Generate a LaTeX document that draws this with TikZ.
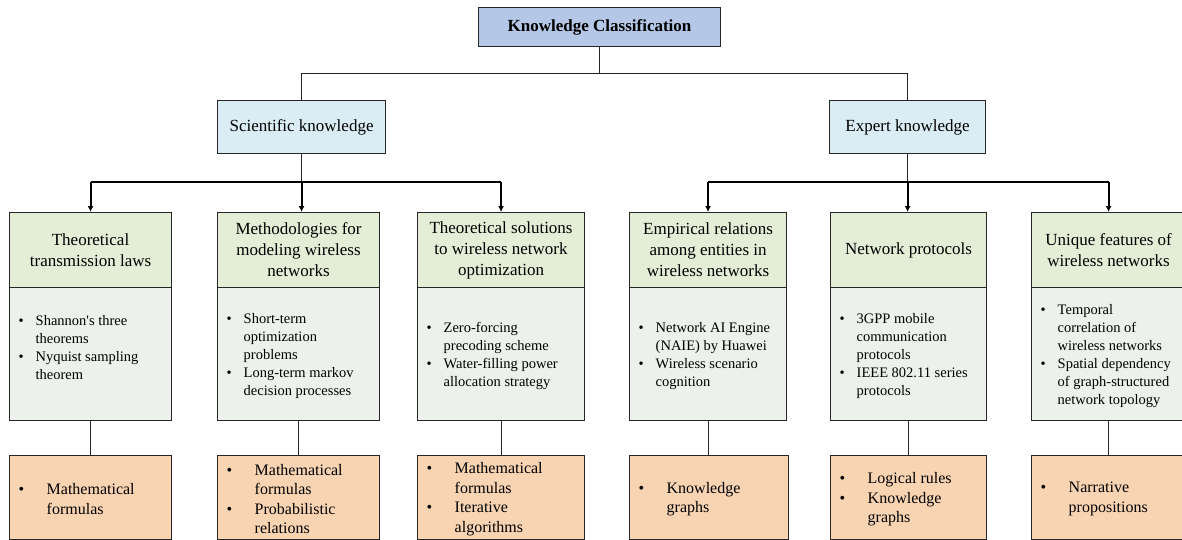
\documentclass[tikz,border=0pt]{standalone}
\usepackage{fontspec}
\setmainfont{Liberation Serif}
\usetikzlibrary{arrows.meta}
\definecolor{titlefill}{HTML}{B4C7E7}
\definecolor{catfill}{HTML}{DAEDF4}
\definecolor{hdrfill}{HTML}{E4EED7}
\definecolor{bodyfill}{HTML}{EDF1EB}
\definecolor{botfill}{HTML}{F8D4B3}
\definecolor{bordercol}{HTML}{262626}
\newcommand\bb{\makebox[17pt][l]{\textbullet}}
\newcommand\bi{\hspace*{17pt}}
\newcommand\Bb{\makebox[28pt][l]{\textbullet}}
\newcommand\Bi{\hspace*{28pt}}
\tikzset{
  box/.style={draw=bordercol, line width=1.1pt, inner sep=0pt, anchor=north west},
  hdr/.style={box, fill=hdrfill, minimum height=75pt, align=center, font=\fontsize{17}{21}\selectfont},
  bodybox/.style={box, fill=bodyfill, minimum height=133pt},
  botbox/.style={box, fill=botfill, minimum height=84pt},
  btxt/.style={anchor=west, inner sep=0pt, align=left, font=\fontsize{14.5}{18}\selectfont},
  Btxt/.style={anchor=west, inner sep=0pt, align=left, font=\fontsize{16}{19.5}\selectfont},
  conn/.style={line width=1pt, draw=bordercol},
  bar/.style={line width=1.9pt},
  arr/.style={line width=1.9pt, -{Latex[length=6pt,width=6pt]}}
}
\begin{document}
\begin{tikzpicture}[x=1pt,y=-1pt]
\useasboundingbox (0,0) rectangle (1182,540);

% top levels
\node[box, fill=titlefill, minimum width=242pt, minimum height=39pt, font=\fontsize{17}{21}\selectfont\bfseries] (title) at (478,7) {\raisebox{-2pt}{Knowledge Classification}};
\node[box, fill=catfill, minimum width=168pt, minimum height=53pt, font=\fontsize{17}{21}\selectfont] (sci) at (217,100) {\raisebox{-2pt}{Scientific knowledge}};
\node[box, fill=catfill, minimum width=156pt, minimum height=53pt, font=\fontsize{17}{21}\selectfont] (exp) at (829,100) {\raisebox{-2pt}{Expert knowledge}};

% headers
\node[hdr, minimum width=162pt] (h1) at (9,212) {Theoretical\\transmission laws};
\node[hdr, minimum width=162pt] (h2) at (217,212) {Methodologies for\\modeling wireless\\networks};
\node[hdr, minimum width=167pt] (h3) at (417,212) {Theoretical solutions\\to wireless network\\optimization};
\node[hdr, minimum width=157pt] (h4) at (629,212) {Empirical relations\\among entities in\\wireless networks};
\node[hdr, minimum width=156pt] (h5) at (830,212) {Network protocols};
\node[hdr, minimum width=154pt] (h6) at (1031,212) {Unique features of\\wireless networks};

% bodies
\node[bodybox, minimum width=162pt] (b1) at (9,287) {};
\node[bodybox, minimum width=162pt] (b2) at (217,287) {};
\node[bodybox, minimum width=167pt] (b3) at (417,287) {};
\node[bodybox, minimum width=157pt] (b4) at (629,287) {};
\node[bodybox, minimum width=156pt] (b5) at (830,287) {};
\node[bodybox, minimum width=154pt] (b6) at (1031,287) {};

\node[btxt] (t1) at ([xshift=9.5pt,yshift=7pt]b1.west) {\bb Shannon\textquotesingle s three\\\bi theorems\\\bb Nyquist sampling\\\bi theorem};
\node[btxt] (t2) at ([xshift=9.5pt,yshift=-2pt]b2.west) {\bb Short-term\\\bi optimization\\\bi problems\\\bb Long-term markov\\\bi decision processes};
\node[btxt] (t3) at ([xshift=9.5pt,yshift=-2pt]b3.west) {\bb Zero-forcing\\\bi precoding scheme\\\bb Water-filling power\\\bi allocation strategy};
\node[btxt] (t4) at ([xshift=9.5pt,yshift=-2pt]b4.west) {\bb Network AI Engine\\\bi (NAIE) by Huawei\\\bb Wireless scenario\\\bi cognition};
\node[btxt] (t5) at ([xshift=9.5pt,yshift=-2pt]b5.west) {\bb 3GPP mobile\\\bi communication\\\bi protocols\\\bb IEEE 802.11 series\\\bi protocols};
\node[btxt] (t6) at ([xshift=9.5pt,yshift=-2pt]b6.west) {\bb Temporal\\\bi correlation of\\\bi wireless networks\\\bb Spatial dependency\\\bi of graph-structured\\\bi network topology};

% bottoms
\node[botbox, minimum width=162pt] (d1) at (9,455) {};
\node[botbox, minimum width=162pt] (d2) at (217,455) {};
\node[botbox, minimum width=167pt] (d3) at (417,455) {};
\node[botbox, minimum width=159pt] (d4) at (629,455) {};
\node[botbox, minimum width=156pt] (d5) at (830,455) {};
\node[botbox, minimum width=154pt] (d6) at (1031,455) {};

\node[Btxt] (u1) at ([xshift=9.5pt,yshift=-1.5pt]d1.west) {\Bb Mathematical\\\Bi formulas};
\node[Btxt] (u2) at ([xshift=9.5pt,yshift=-1.5pt]d2.west) {\Bb Mathematical\\\Bi formulas\\\Bb Probabilistic\\\Bi relations};
\node[Btxt] (u3) at ([xshift=9.5pt,yshift=-1.5pt]d3.west) {\Bb Mathematical\\\Bi formulas\\\Bb Iterative\\\Bi algorithms};
\node[Btxt] (u4) at ([xshift=9.5pt,yshift=-1.5pt]d4.west) {\Bb Knowledge\\\Bi graphs};
\node[Btxt] (u5) at ([xshift=9.5pt,yshift=-2pt]d5.west) {\Bb Logical rules\\\Bb Knowledge\\\Bi graphs};
\node[Btxt] (u6) at ([xshift=9.5pt,yshift=-1.5pt]d6.west) {\Bb Narrative\\\Bi propositions};

% top connectors
\draw[conn] (title.south) -- ++(0,26) coordinate (tb);
\draw[conn] (sci.north) |- (tb) -| (exp.north);

% scientific branch
\draw[conn] (sci.south) -- ++(0,28) coordinate (sb);
\draw[bar] (h1.north |- sb) -- (h3.north |- sb);
\draw[arr] (h1.north |- sb) -- (h1.north);
\draw[arr] (sb) -- (sb |- h2.north);
\draw[arr] (h3.north |- sb) -- (h3.north);

% expert branch
\draw[conn] (exp.south) -- ++(0,28) coordinate (eb);
\draw[bar] (h4.north |- eb) -- (h6.north |- eb);
\draw[arr] (h4.north |- eb) -- (h4.north);
\draw[arr] (eb) -- (eb |- h5.north);
\draw[arr] (h6.north |- eb) -- (h6.north);

% body to bottom
\foreach \i in {1,...,6} {
  \draw[conn] (b\i.south) -- (b\i.south |- d\i.north);
}
\end{tikzpicture}
\end{document}
